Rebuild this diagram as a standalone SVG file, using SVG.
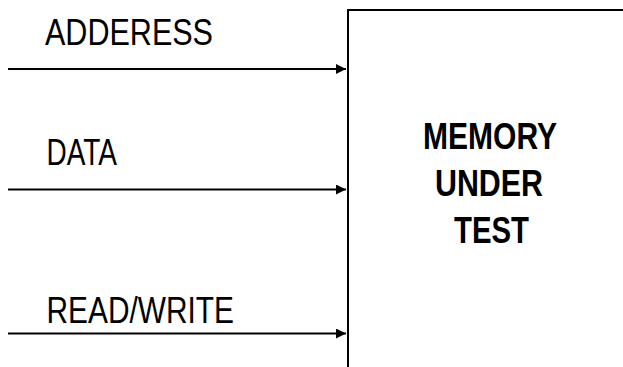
<svg xmlns="http://www.w3.org/2000/svg" width="623" height="367" viewBox="0 0 623 367">
  <style>
    .sig { font-family: "Liberation Sans", Arial, sans-serif; font-size: 36px; fill: #000; }
    .title { font-family: "Liberation Sans", Arial, sans-serif; font-size: 37px; font-weight: bold; fill: #000; }
    .wire { stroke: #000; stroke-width: 1.8; fill: none; }
  </style>
  <defs>
    <marker id="arrow" viewBox="0 0 10 10" refX="10" refY="5" markerWidth="10" markerHeight="10" markerUnits="userSpaceOnUse" orient="auto">
      <path d="M0,0 L10,5 L0,10 Z" fill="#000"/>
    </marker>
  </defs>
  <rect width="623" height="367" fill="#fff"/>

  <!-- memory block, runs off the right and bottom edges -->
  <g id="memory">
    <path d="M348,380 L348,10 L630,10" stroke="#000" stroke-width="2" fill="none"/>
    <text class="title" x="423" y="149" textLength="134" lengthAdjust="spacingAndGlyphs">MEMORY</text>
    <text class="title" x="435" y="196" textLength="108" lengthAdjust="spacingAndGlyphs">UNDER</text>
    <text class="title" x="454" y="243" textLength="75" lengthAdjust="spacingAndGlyphs">TEST</text>
  </g>

  <!-- input signal labels -->
  <g id="address">
    <text class="sig" x="45" y="45" textLength="168" lengthAdjust="spacingAndGlyphs">ADDERESS</text>
  </g>
  <g id="data">
    <text class="sig" x="46.5" y="165" textLength="70.5" lengthAdjust="spacingAndGlyphs">DATA</text>
  </g>
  <g id="readwrite">
    <text class="sig" x="46.5" y="323" textLength="187.5" lengthAdjust="spacingAndGlyphs">READ/WRITE</text>
  </g>

  <!-- input lines into the block -->
  <g id="connectors">
    <line class="wire" x1="8" y1="69" x2="346" y2="69" marker-end="url(#arrow)"/>
    <line class="wire" x1="8" y1="189.5" x2="346" y2="189.5" marker-end="url(#arrow)"/>
    <line class="wire" x1="8" y1="333.5" x2="346" y2="333.5" marker-end="url(#arrow)"/>
  </g>
</svg>
